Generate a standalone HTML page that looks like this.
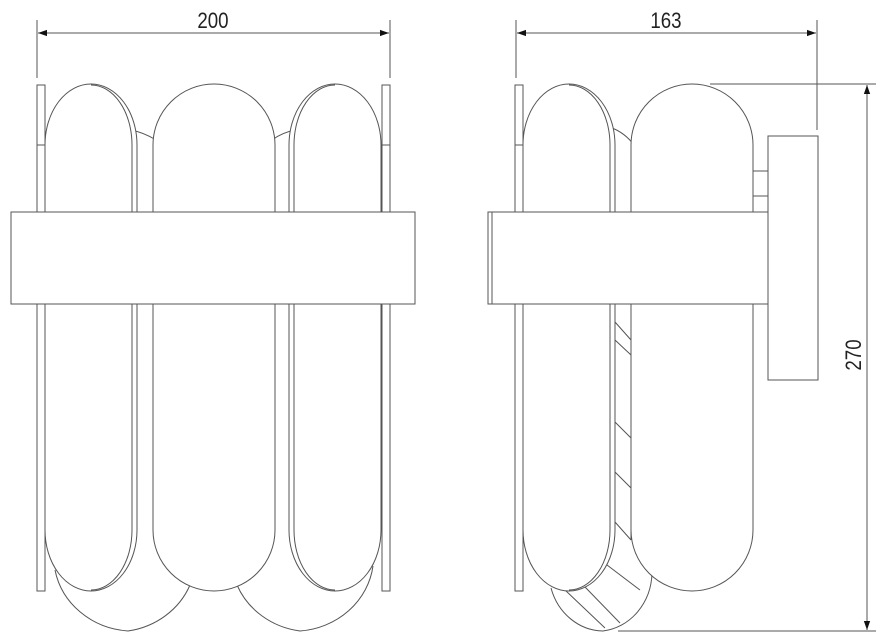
<!DOCTYPE html>
<html><head><meta charset="utf-8"><style>
html,body{margin:0;padding:0;background:#fff;}
svg{display:block;}
text{font-family:"Liberation Sans",sans-serif;fill:#222;}
</style></head><body>
<svg width="884" height="642" viewBox="0 0 884 642" xmlns="http://www.w3.org/2000/svg">
<defs>
<marker id="a" viewBox="0 0 10 10" refX="10" refY="5" markerWidth="9" markerHeight="9" orient="auto-start-reverse" markerUnits="userSpaceOnUse"><path d="M0,1.5 L10,5 L0,8.5 z" fill="#111"/></marker>
</defs>
<g fill="none" stroke="#555" stroke-width="1">
<!-- LEFT VIEW dimension -->
<line x1="37" y1="20" x2="37" y2="78"/>
<line x1="390" y1="20" x2="390" y2="78"/>
<line x1="38" y1="33" x2="389" y2="33" marker-start="url(#a)" marker-end="url(#a)"/>
<!-- back discs -->
<path d="M55,570 A80,75 0 0 0 128,631 A80,75 0 0 0 190,585"/>
<path d="M237,585 A80,75 0 0 0 300,631 A80,75 0 0 0 373,566"/>
<path d="M130,130 Q143,132 156,140"/>
<path d="M272,140 Q283,132 296,130"/>
<!-- strips -->
<rect x="37" y="85" width="8" height="506"/>
<rect x="382" y="85" width="8" height="506"/>
<line x1="37" y1="145" x2="45" y2="145"/>
<line x1="382" y1="145" x2="390" y2="145"/>
<!-- capsules -->
<path d="M45,145 A46,61 0 0 1 137,145 L137,530 A46,61 0 0 1 45,530 Z" fill="#fff"/>
<path d="M91,85 A41,60 0 0 1 132,145 L132,530 A41,60 0 0 1 91,590"/>
<path d="M153,145 A61,61 0 0 1 275,145 L275,530 A61,61 0 0 1 153,530 Z" fill="#fff"/>
<path d="M289,145 A46,61 0 0 1 381,145 L381,530 A46,61 0 0 1 289,530 Z" fill="#fff"/>
<path d="M335,85 A41,60 0 0 0 294,145 L294,530 A41,60 0 0 0 335,590"/>
<!-- bar -->
<rect x="11" y="212" width="404" height="92" fill="#fff"/>

<!-- RIGHT VIEW dimension -->
<line x1="516" y1="20" x2="516" y2="78"/>
<line x1="817" y1="20" x2="817" y2="130"/>
<line x1="517" y1="33" x2="816" y2="33" marker-start="url(#a)" marker-end="url(#a)"/>
<line x1="710" y1="84" x2="876" y2="84"/>
<line x1="618" y1="631" x2="876" y2="631"/>
<line x1="867" y1="85" x2="867" y2="630" marker-start="url(#a)" marker-end="url(#a)"/>
<!-- bottom disc -->
<path d="M551,588 A55,60 0 0 0 603,631 A55,60 0 0 0 652,573" fill="#fff"/>
<path d="M565,590 L605,628 M585,587 L620,623 M607,565 L640,590"/>
<!-- hatched strip -->
<path d="M612,128 Q625,133 634,145"/>
<line x1="615" y1="300" x2="615" y2="525"/>
<line x1="631" y1="300" x2="631" y2="540"/>
<path d="M615,322 L631,340 M615,340 L631,355 M615,422 L631,438 M615,472 L631,488 M615,522 L631,540"/>
<!-- strip -->
<rect x="515" y="85" width="8" height="506"/>
<line x1="515" y1="145" x2="523" y2="145"/>
<!-- capsules -->
<path d="M523,145 A46,61 0 0 1 615,145 L615,530 A46,61 0 0 1 523,530 Z" fill="#fff"/>
<path d="M569,85 A41,60 0 0 1 610,145 L610,530 A41,60 0 0 1 569,590"/>
<path d="M631,145 A61,61 0 0 1 753,145 L753,530 A61,61 0 0 1 631,530 Z" fill="#fff"/>
<!-- connector & plate -->
<rect x="753" y="171" width="15" height="25" fill="#fff"/>
<rect x="768" y="136" width="50" height="244" fill="#fff"/>
<!-- bar -->
<rect x="488" y="212" width="280" height="92" fill="#fff"/>
<line x1="492" y1="212" x2="492" y2="304"/>
</g>
<text x="213" y="28" font-size="22" text-anchor="middle" transform="translate(213,0) scale(0.85,1) translate(-213,0)">200</text>
<text x="666" y="28" font-size="22" text-anchor="middle" transform="translate(666,0) scale(0.85,1) translate(-666,0)">163</text>
<text x="0" y="0" font-size="22" text-anchor="middle" transform="translate(861,355) rotate(-90) scale(0.85,1)">270</text>
</svg>
</body></html>
